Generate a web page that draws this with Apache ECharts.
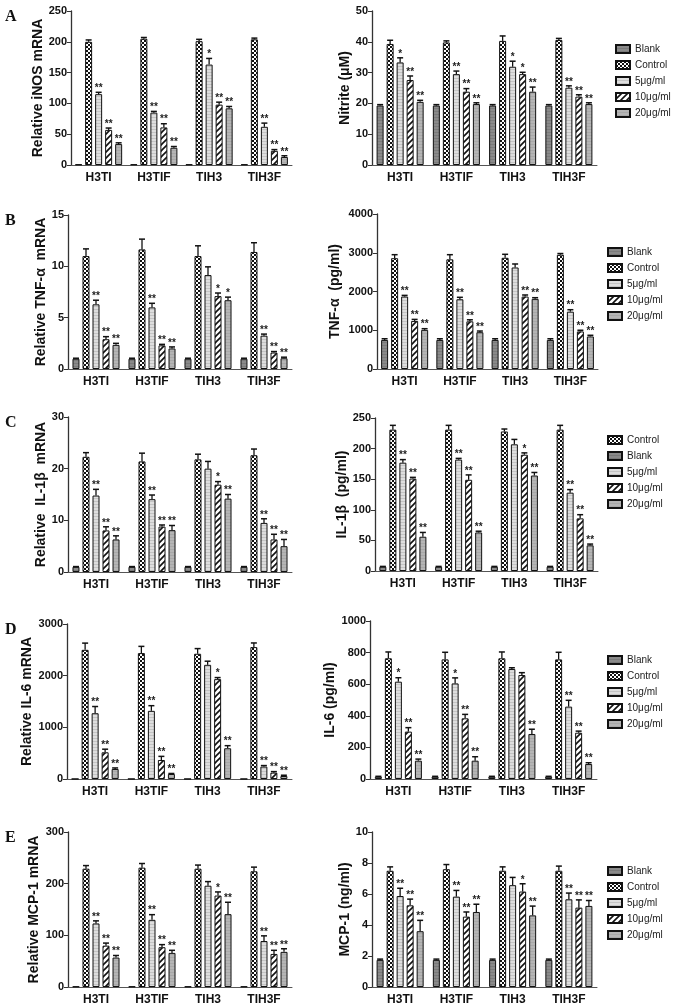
<!DOCTYPE html>
<html><head><meta charset="utf-8">
<script src="https://cdn.jsdelivr.net/npm/echarts@6/dist/echarts.min.js"></script>
<style>html,body{margin:0;padding:0;background:#fff}#c{width:675px;height:1008px}</style>
</head><body><div id="c"></div>
<script>
// ---------- data ----------
const categories = ['H3TI', 'H3TIF', 'TIH3', 'TIH3F'];
const seriesNames = ['Blank', 'Control', '5μg/ml', '10μg/ml', '20μg/ml'];

// A left: Relative iNOS mRNA
const iNOS_mean = [[1,1,1,1],[200,205,201,204],[115,85,163,62],[57,61,98,23],[34,28,92,13]];
const iNOS_sd   = [[0,0,0,0],[3,2,3,2],[3,2,10,6],[3,6,4,2],[2,2,3,2]];
const iNOS_sig  = [['','','',''],['','','',''],['**','**','*','**'],['**','**','**','**'],['**','**','**','**']];
const iNOS_ticks = [0, 250, 50];

// A right: Nitrite (μM)
const nitrite_mean = [[19.3,19.3,19.3,19.3],[39.3,39.8,40.3,40.6],[33.3,29.5,31.9,25.1],[27.6,23.8,29.5,22.2],[20.5,19.8,23.8,19.8]];
const nitrite_sd   = [[0.3,0.3,0.3,0.3],[1.2,0.5,1.6,0.5],[1.5,1.0,1.8,0.6],[1.3,1.0,0.6,0.6],[0.5,0.4,1.5,0.4]];
const nitrite_sig  = [['','','',''],['','','',''],['*','**','*','**'],['**','**','*','**'],['**','**','**','**']];
const nitrite_ticks = [0, 50, 10];

// B left: Relative TNF-α mRNA
const tnfm_mean = [[1,1,1,1],[11.0,11.65,11.0,11.4],[6.3,6.0,9.15,3.25],[2.9,2.3,7.1,1.6],[2.35,2.0,6.7,1.05]];
const tnfm_sd   = [[0.05,0.05,0.05,0.05],[0.7,1.0,1.0,0.9],[0.4,0.4,0.8,0.15],[0.25,0.1,0.3,0.1],[0.15,0.15,0.3,0.1]];
const tnfm_sig  = [['','','',''],['','','',''],['**','**','','**'],['**','**','*','**'],['**','**','*','**']];
const tnfm_ticks = [0, 15, 5];

// B right: TNF-α (pg/ml)
const tnfp_mean = [[750,750,750,750],[2860,2830,2870,2950],[1870,1800,2620,1480],[1240,1230,1870,970],[1010,950,1810,840]];
const tnfp_sd   = [[30,30,30,30],[90,120,90,30],[30,50,90,50],[40,40,40,30],[30,30,30,30]];
const tnfp_sig  = [['','','',''],['','','',''],['**','**','','**'],['**','**','**','**'],['**','**','**','**']];
const tnfp_ticks = [0, 4000, 1000];

// C left: Relative IL-1β mRNA
const il1m_mean = [[1,1,1,1],[22.3,21.4,21.8,22.6],[14.8,14.1,20.0,9.5],[8.05,8.8,16.9,6.3],[6.3,8.1,14.2,5.0]];
const il1m_sd   = [[0.05,0.05,0.05,0.05],[0.8,1.6,1.0,1.2],[1.2,0.8,1.4,0.8],[0.7,0.3,0.6,1.0],[0.7,0.9,0.8,1.3]];
const il1m_sig  = [['','','',''],['','','',''],['**','**','','**'],['**','**','*','**'],['**','**','**','**']];
const il1m_ticks = [0, 30, 10];

// C right: IL-1β (pg/ml)
const il1p_mean = [[7,7,7,7],[231,231,228,231],[177,182,207,128],[151,149,190,86],[56,63,156,42]];
const il1p_sd   = [[0.5,0.5,0.5,0.5],[7,7,4,7],[5,2,8,5],[2,8,3,6],[7,2,5,2]];
const il1p_sig  = [['','','',''],['','','',''],['**','**','','**'],['**','**','*','**'],['**','**','**','**']];
const il1p_ticks = [0, 250, 50];

// D left: Relative IL-6 mRNA
const il6m_mean = [[1,1,1,1],[2500,2437,2424,2553],[1273,1319,2210,240],[517,368,1933,123],[194,97,595,58]];
const il6m_sd   = [[0,0,0,0],[130,130,100,80],[130,100,70,20],[60,70,30,20],[20,10,50,15]];
const il6m_sig  = [['','','',''],['','','',''],['**','**','','**'],['**','**','*','**'],['**','**','**','**']];
const il6m_ticks = [0, 3000, 1000];

// D right: IL-6 (pg/ml)
const il6p_mean = [[15,15,15,15],[764,757,764,757],[616,605,696,458],[300,384,658,293],[116,116,285,95]];
const il6p_sd   = [[2,2,2,2],[40,45,40,45],[25,35,8,40],[25,25,15,10],[10,25,30,8]];
const il6p_sig  = [['','','',''],['','','',''],['*','*','','**'],['**','**','','**'],['**','**','**','**']];
const il6p_ticks = [0, 1000, 200];

// E left: Relative MCP-1 mRNA
const mcpm_mean = [[1,1,1,1],[229,231,229,224],[123,130,196,89],[80,77,177,64],[57,66,141,68]];
const mcpm_sd   = [[0,0,0,0],[6,8,7,8],[5,10,8,10],[5,5,7,7],[4,5,23,6]];
const mcpm_sig  = [['','','',''],['','','',''],['**','**','','**'],['**','**','*','**'],['**','**','**','**']];
const mcpm_ticks = [0, 300, 100];

// E right: MCP-1 (ng/ml)
const mcpp_mean = [[1.75,1.75,1.75,1.75],[7.5,7.6,7.5,7.5],[5.87,5.83,6.57,5.66],[5.27,4.54,6.16,5.12],[3.6,4.84,4.62,5.23]];
const mcpp_sd   = [[0.05,0.05,0.05,0.05],[0.25,0.3,0.25,0.3],[0.5,0.4,0.5,0.4],[0.4,0.3,0.5,0.5],[0.7,0.5,0.6,0.35]];
const mcpp_sig  = [['','','',''],['','','',''],['**','**','','**'],['**','**','*','**'],['**','**','**','**']];
const mcpp_ticks = [0, 10, 2];

const legendOrderStd = ['Blank', 'Control', '5μg/ml', '10μg/ml', '20μg/ml'];
const legendOrderC = ['Control', 'Blank', '5μg/ml', '10μg/ml', '20μg/ml'];

// ---------- layout ----------
const FONT = '"Liberation Sans", Arial, sans-serif';
const BAR_W = 7, BAR_STEP = 10;
const panels = [
  {letter:'A', name:'Relative iNOS mRNA', mean:iNOS_mean, sd:iNOS_sd, sig:iNOS_sig, ticks:iNOS_ticks, left:71, right:292, top:11, bottom:165, gap:23},
  {name:'Nitrite (μM)', mean:nitrite_mean, sd:nitrite_sd, sig:nitrite_sig, ticks:nitrite_ticks, left:372, right:597, top:11, bottom:165, gap:17, legend:legendOrderStd, lx:615, ly:44},
  {letter:'B', name:'Relative TNF-α  mRNA', mean:tnfm_mean, sd:tnfm_sd, sig:tnfm_sig, ticks:tnfm_ticks, left:68, right:292, top:215, bottom:369, gap:20},
  {name:'TNF-α  (pg/ml)', mean:tnfp_mean, sd:tnfp_sd, sig:tnfp_sig, ticks:tnfp_ticks, left:377, right:598, top:214, bottom:369, gap:35, legend:legendOrderStd, lx:607, ly:247},
  {letter:'C', name:'Relative  IL-1β  mRNA', mean:il1m_mean, sd:il1m_sd, sig:il1m_sig, ticks:il1m_ticks, left:68, right:292, top:417, bottom:572, gap:20},
  {name:'IL-1β  (pg/ml)', mean:il1p_mean, sd:il1p_sd, sig:il1p_sig, ticks:il1p_ticks, left:375, right:598, top:418, bottom:571, gap:25, legend:legendOrderC, lx:607, ly:435},
  {letter:'D', name:'Relative IL-6 mRNA', mean:il6m_mean, sd:il6m_sd, sig:il6m_sig, ticks:il6m_ticks, left:67, right:292, top:624, bottom:779, gap:33},
  {name:'IL-6 (pg/ml)', mean:il6p_mean, sd:il6p_sd, sig:il6p_sig, ticks:il6p_ticks, left:370, right:597, top:621, bottom:779, gap:29, legend:legendOrderStd, lx:607, ly:655},
  {letter:'E', name:'Relative MCP-1 mRNA', mean:mcpm_mean, sd:mcpm_sd, sig:mcpm_sig, ticks:mcpm_ticks, left:68, right:292, top:832, bottom:987, gap:27},
  {name:'MCP-1 (ng/ml)', mean:mcpp_mean, sd:mcpp_sd, sig:mcpp_sig, ticks:mcpp_ticks, left:372, right:597, top:832, bottom:987, gap:19, legend:legendOrderStd, lx:607, ly:866}
];

// ---------- patterns ----------
function mk(w, h, draw) {
  const c = document.createElement('canvas'); c.width = w; c.height = h;
  draw(c.getContext('2d')); return {image: c, repeat: 'repeat'};
}
const fills = [
  mk(4, 3, g => { g.fillStyle = '#8a8a8a'; g.fillRect(0,0,4,3); g.fillStyle = '#7a7a7a'; g.fillRect(0,0,4,1); }),
  mk(4, 4, g => { g.fillStyle = '#fff'; g.fillRect(0,0,4,4); g.fillStyle = '#111'; g.fillRect(0,0,2,2); g.fillRect(2,2,2,2); }),
  mk(4, 3, g => { g.fillStyle = '#dedede'; g.fillRect(0,0,4,3); g.fillStyle = '#c4c4c4'; g.fillRect(0,0,4,1); }),
  mk(6, 6, g => { g.fillStyle = '#fff'; g.fillRect(0,0,6,6); g.strokeStyle = '#111'; g.lineWidth = 1.6;
      g.beginPath(); g.moveTo(-1,7); g.lineTo(7,-1); g.moveTo(-4,4); g.lineTo(4,-4); g.moveTo(2,10); g.lineTo(10,2); g.stroke(); }),
  mk(4, 3, g => { g.fillStyle = '#b5b5b5'; g.fillRect(0,0,4,3); g.fillStyle = '#a8a8a8'; g.fillRect(0,0,4,1); })
];

// ---------- option ----------
const grid = [], xAxis = [], yAxis = [], series = [], legend = [], graphic = [];
panels.forEach((p, gi) => {
  grid.push({left: p.left, top: p.top, width: p.right - p.left, height: p.bottom - p.top});
  xAxis.push({type:'category', gridIndex: gi, data: categories,
    axisLine:{lineStyle:{color:'#555', width:1}},
    axisTick:{alignWithLabel:true, length:4, lineStyle:{color:'#555'}},
    axisLabel:{fontFamily:FONT, fontWeight:'bold', fontSize:12, color:'#111', margin:7}});
  yAxis.push({type:'value', gridIndex: gi, min:p.ticks[0], max:p.ticks[1], interval:p.ticks[2],
    name:p.name, nameLocation:'middle', nameGap:p.gap,
    nameTextStyle:{fontFamily:FONT, fontWeight:'bold', fontSize:14, color:'#111'},
    axisLine:{show:true, lineStyle:{color:'#333', width:1.3}},
    axisTick:{show:true, length:4, lineStyle:{color:'#333'}},
    splitLine:{show:false},
    axisLabel:{fontFamily:FONT, fontWeight:'bold', fontSize:11, color:'#111', margin:4,
      formatter: v => String(v)}});
  for (let s = 0; s < 5; s++) {
    series.push({type:'bar', name: seriesNames[s], xAxisIndex: gi, yAxisIndex: gi,
      barWidth: BAR_W, barGap: '43%', data: p.mean[s],
      itemStyle:{color: fills[s], borderColor:'#111', borderWidth:1}});
  }
  const data = [], sigs = [];
  for (let s = 0; s < 5; s++) for (let c = 0; c < 4; c++) { data.push([c, s, p.mean[s][c], p.sd[s][c]]); sigs.push(p.sig[s][c]); }
  series.push({type:'custom', xAxisIndex: gi, yAxisIndex: gi, z: 10, silent: true,
    encode:{x:0, y:2}, data: data,
    renderItem: function (params, api) {
      const c = api.value(0), s = api.value(1), m = api.value(2), sd = api.value(3);
      const sig = sigs[params.dataIndex];
      const base = api.coord([c, m]), top = api.coord([c, m + sd]);
      const x = base[0] + (s - 2) * BAR_STEP;
      const ch = [];
      if (sd > 0) {
        ch.push({type:'line', shape:{x1:x, y1:base[1], x2:x, y2:top[1]}, style:{stroke:'#111', lineWidth:1.3}});
        ch.push({type:'line', shape:{x1:x-3, y1:top[1], x2:x+3, y2:top[1]}, style:{stroke:'#111', lineWidth:1.5}});
      }
      if (sig) ch.push({type:'text', style:{text:sig, x:x, y:top[1] + 1, align:'center', verticalAlign:'bottom',
        font:'bold 10px ' + FONT, fill:'#222'}});
      return {type:'group', children: ch};
    }});
  if (p.legend) {
    legend.push({orient:'vertical', left:p.lx, top:p.ly, data:p.legend, icon:'rect',
      itemWidth:14, itemHeight:8, itemGap:6, selectedMode:false, padding:0,
      textStyle:{fontFamily:FONT, fontSize:10, color:'#222'}});
  }
  if (p.letter) {
    graphic.push({type:'text', left: 5, top: p.top - 2,
      style:{text:p.letter, font:'bold 16px "Liberation Serif", "Times New Roman", serif', fill:'#111'}});
  }
});

const chart = echarts.init(document.getElementById('c'), null, {renderer:'canvas'});
chart.setOption({animation:false, backgroundColor:'#fff', grid, xAxis, yAxis, series, legend, graphic});
</script></body></html>
